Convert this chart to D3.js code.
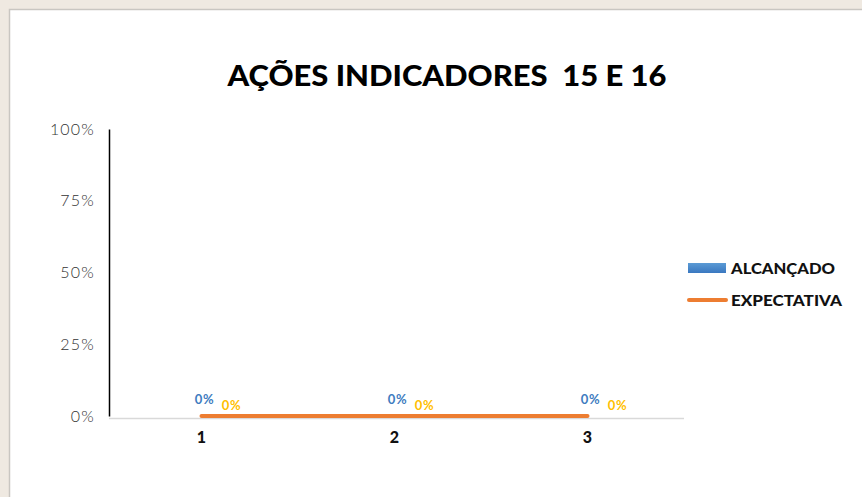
<!DOCTYPE html>
<html><head><meta charset="utf-8">
<script src="https://cdn.jsdelivr.net/npm/d3@7"></script>
<style>
html,body{margin:0;padding:0;background:#f0ebe3;}
svg{display:block;}
text{white-space:pre;}
</style></head>
<body>
<svg id="c" width="862" height="497"></svg>
<script>
const categories = ["1","2","3"];
const alcancado = [0,0,0];
const expectativa = [0,0,0];
const yTicks = [0,0.25,0.5,0.75,1];
const title = "AÇÕES INDICADORES  15 E 16";
const seriesNames = ["ALCANÇADO","EXPECTATIVA"];

const svg = d3.select("#c");
const defs = svg.append("defs");
const g1 = defs.append("linearGradient").attr("id","bg").attr("x1",0).attr("y1",0).attr("x2",0).attr("y2",1);
g1.append("stop").attr("offset","0%").attr("stop-color","#5b9bd5");
g1.append("stop").attr("offset","100%").attr("stop-color","#3a78c0");

svg.append("rect").attr("width",862).attr("height",497).attr("fill","#efe9e1");
svg.append("rect").attr("x",9.5).attr("y",9.5).attr("width",870).attr("height",500)
  .attr("fill","#fff").attr("stroke","#c9c6c1").attr("stroke-width",1.5);

const x = d3.scaleBand().domain(categories).range([105,684]);
const y = d3.scaleLinear().domain([0,1]).range([416,129]);

svg.append("text").attr("x",447).attr("y",86).attr("text-anchor","middle")
  .attr("font-family","Lato").attr("font-weight",900).attr("font-size",28)
  .attr("textLength",439).attr("lengthAdjust","spacingAndGlyphs")
  .attr("fill","#000").text(title);

const ya = svg.append("g").attr("transform","translate(109,0)")
  .call(d3.axisLeft(y).tickValues(yTicks).tickFormat(d3.format(".0%")).tickSize(0).tickPadding(14));
ya.select(".domain").attr("stroke","#000").attr("stroke-width",1.5);
ya.selectAll("text").attr("font-family","Lato").attr("font-weight",300).attr("font-size",16)
  .attr("letter-spacing",1.2).attr("fill","#333");

const xa = svg.append("g").attr("transform","translate(0,418)")
  .call(d3.axisBottom(x).tickSize(0).tickPadding(14));
xa.select(".domain").attr("stroke","#d9d9d9").attr("stroke-width",1.5).attr("d","M109,0.5H684");
xa.selectAll("text").attr("font-family","Lato").attr("font-weight",900).attr("font-size",16).attr("fill","#111");

const cx = d => x(d)+x.bandwidth()/2;

svg.append("g").selectAll("rect").data(alcancado).join("rect")
  .attr("x",(d,i)=>cx(categories[i])-20).attr("width",40)
  .attr("y",d=>y(d)).attr("height",d=>y(0)-y(d)).attr("fill","url(#bg)");

const line = d3.line().x((d,i)=>cx(categories[i])).y(d=>y(d));
svg.append("path").datum(expectativa).attr("d",line).attr("fill","none")
  .attr("stroke","#ed7d31").attr("stroke-width",4).attr("stroke-linecap","round");

svg.append("g").selectAll("text").data(alcancado).join("text")
  .attr("x",(d,i)=>cx(categories[i])+3).attr("y",d=>y(d)-12).attr("text-anchor","middle")
  .attr("font-family","Lato").attr("font-weight",700).attr("font-size",13).attr("letter-spacing",0.6)
  .attr("fill","#3e7cc0").text(d3.format(".0%"));
svg.append("g").selectAll("text").data(expectativa).join("text")
  .attr("x",(d,i)=>cx(categories[i])+30).attr("y",d=>y(d)-6).attr("text-anchor","middle")
  .attr("font-family","Lato").attr("font-weight",700).attr("font-size",13).attr("letter-spacing",0.6)
  .attr("fill","#ffc000").text(d3.format(".0%"));

const lg = svg.append("g");
lg.append("rect").attr("x",688).attr("y",263).attr("width",38).attr("height",10).attr("fill","url(#bg)");
lg.append("line").attr("x1",689).attr("x2",726).attr("y1",300).attr("y2",300)
  .attr("stroke","#ed7d31").attr("stroke-width",4).attr("stroke-linecap","round");
const legendLens = [104,111];
lg.selectAll("text").data(seriesNames).join("text")
  .attr("x",731).attr("y",(d,i)=>274+i*32)
  .attr("font-family","Lato").attr("font-weight",900).attr("font-size",14.5).attr("fill","#111")
  .attr("textLength",(d,i)=>legendLens[i]).attr("lengthAdjust","spacingAndGlyphs")
  .text(d=>d);
</script>
</body></html>
